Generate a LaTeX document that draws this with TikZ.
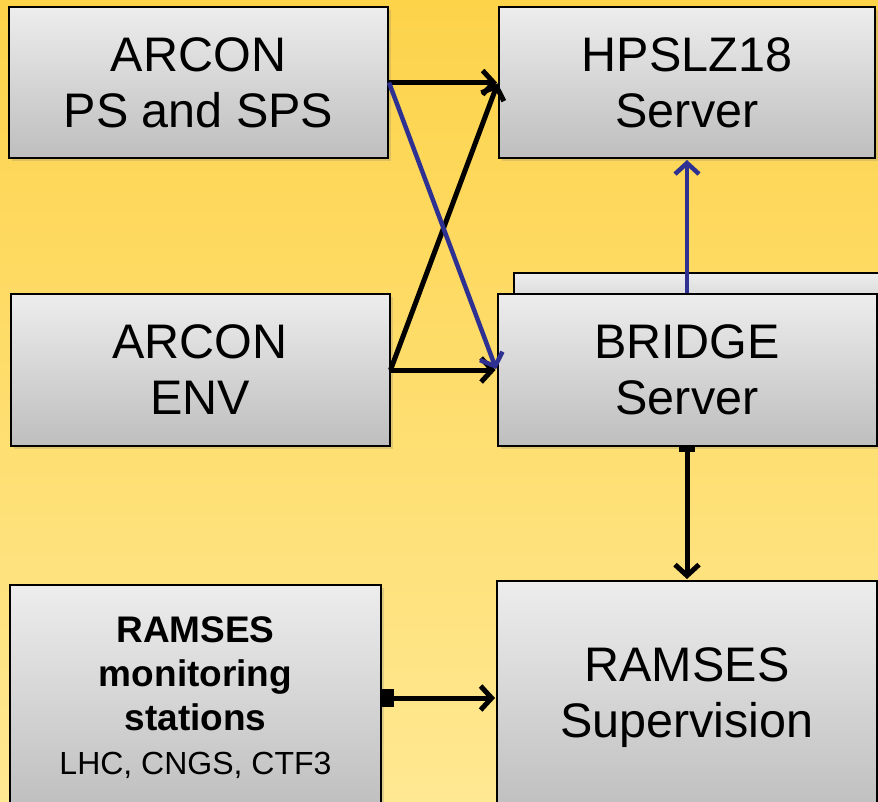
\documentclass[tikz,border=0pt]{standalone}
\usepackage{fontspec}
\setmainfont{Liberation Sans}
\usepackage{tikz}
\usetikzlibrary{
        arrows.meta,
        positioning,
        shadows
    }
\definecolor{bgtop}{RGB}{253,211,74}
\definecolor{bgbot}{RGB}{255,232,146}
\definecolor{boxtop}{RGB}{237,237,237}
\definecolor{boxbot}{RGB}{190,190,190}
\definecolor{linkblue}{RGB}{46,49,146}
\tikzset{>={Straight Barb[length=11pt,width=24pt]},shorten >=1pt}
\tikzset{server/.style={rectangle,draw=black,line width=2pt,top color=boxtop,bottom color=boxbot,
        drop shadow={shadow xshift=3pt,shadow yshift=-3pt,opacity=0.25},
        align=center,inner sep=0pt,font=\fontsize{48.5}{56}\selectfont,
        minimum width=379pt,minimum height=151pt}}

\begin{document}
\begin{tikzpicture}[x=1pt,y=-1pt]
                \useasboundingbox (0,0) rectangle (878,801);
                \clip (0,0) rectangle (878,801);
                \fill[top color=bgtop,bottom color=bgbot] (0,0) rectangle (878,801);
                \node[server] (arconps) at (198.5,82.5) {ARCON\\PS and SPS};
                \node[server,minimum width=376pt] (hpslz) [right=109pt of arconps] {HPSLZ18\\Server};
                \node[server,anchor=north west,minimum width=377pt,minimum height=60pt] (bridgeback) at (513,272) {};
                \node[server,minimum height=152pt] (bridge) [below=134pt of hpslz] {BRIDGE\\Server};
                \node[server,minimum height=152pt] (arconenv) [left=106pt of bridge] {ARCON\\ENV};
                \node[server,minimum width=380pt,minimum height=234pt] (ramsessup) [below=133pt of bridge] {RAMSES\\Supervision};
                \node[server,minimum width=371pt,minimum height=226pt,font=\fontsize{37}{44}\selectfont] (ramsesmon) [left=114pt of ramsessup]
                    {\textbf{RAMSES}\\\textbf{monitoring}\\\textbf{stations}\\{\fontsize{32}{39}\selectfont LHC, CNGS, CTF3}};
                \path[->,line width=5pt]
                    (arconps)  edge  (hpslz)
                    (arconenv)  edge  (bridge)
                ;
                \draw[->,line width=5pt] (arconenv.east) -- (hpslz.west);
                \draw[->,line width=4.5pt,linkblue] (arconps.east) -- (bridge.west);
                \draw[->,line width=4.5pt,linkblue] (bridge.north) -- (hpslz.south);
                \draw[{Bar[width=16pt]}->,line width=5pt] (bridge.south) -- (ramsessup.north);
                \draw[{Square[length=12pt,width=18pt]}->,line width=5pt] (ramsesmon.east) -- (ramsessup.west);
            \end{tikzpicture}
\end{document}
